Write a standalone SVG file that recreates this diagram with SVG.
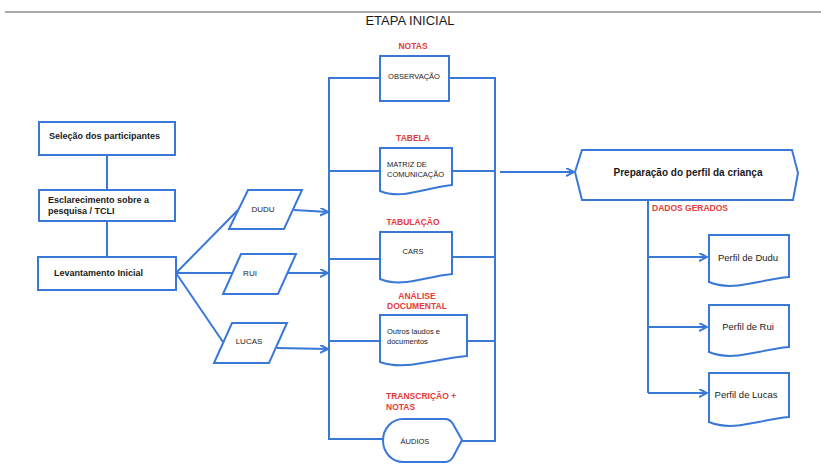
<svg xmlns="http://www.w3.org/2000/svg" width="821" height="468" viewBox="0 0 821 468">
<style>
.s{fill:#fff;stroke:#3a78d8;stroke-width:2}
.c{fill:none;stroke:#3a78d8;stroke-width:2}
.t{font-family:"Liberation Sans",Arial,sans-serif;fill:#1a1a1a}
.b{font-weight:bold}
.r{font-family:"Liberation Sans",Arial,sans-serif;font-weight:bold;fill:#e53b3b;font-size:8.5px}
.m{font-size:7.5px}
</style>
<defs>
<marker id="a" markerWidth="10" markerHeight="10" refX="8" refY="4" orient="auto" markerUnits="userSpaceOnUse">
<path d="M0,0 L8,4 L0,8" fill="none" stroke="#3a78d8" stroke-width="2"/>
</marker>
</defs>
<rect width="821" height="468" fill="#fff"/>
<line x1="5" y1="12" x2="821" y2="12" stroke="#555" stroke-width="1.2"/>
<text class="t" x="410" y="25" font-size="13" text-anchor="middle">ETAPA INICIAL</text>

<g id="connectors">
<line class="c" x1="107" y1="155" x2="107" y2="190"/>
<line class="c" x1="107" y1="221" x2="107" y2="257"/>
<line class="c" x1="176" y1="273" x2="238" y2="210"/>
<line class="c" x1="176" y1="273" x2="232" y2="273"/>
<line class="c" x1="176" y1="273" x2="223" y2="342"/>
<line class="c" x1="294" y1="210" x2="328" y2="212" marker-end="url(#a)"/>
<line class="c" x1="288" y1="273" x2="328" y2="273" marker-end="url(#a)"/>
<line class="c" x1="277" y1="348" x2="328" y2="349" marker-end="url(#a)"/>
<polyline class="c" points="380,78 329,78 329,439 383,439"/>
<line class="c" x1="329" y1="171" x2="380" y2="171"/>
<line class="c" x1="329" y1="259" x2="380" y2="259"/>
<line class="c" x1="329" y1="341" x2="380" y2="341"/>
<polyline class="c" points="449,78 495,78 495,441 462,441"/>
<line class="c" x1="452" y1="171" x2="495" y2="171"/>
<line class="c" x1="452" y1="257" x2="495" y2="257"/>
<line class="c" x1="467" y1="341" x2="495" y2="341"/>
<line class="c" x1="500" y1="172" x2="574" y2="172" marker-end="url(#a)"/>
<line class="c" x1="648" y1="200" x2="648" y2="393"/>
<line class="c" x1="648" y1="257" x2="707" y2="257" marker-end="url(#a)"/>
<line class="c" x1="648" y1="327" x2="707" y2="327" marker-end="url(#a)"/>
<line class="c" x1="648" y1="393" x2="707" y2="393" marker-end="url(#a)"/>
</g>

<g id="selecao">
<rect class="s" x="39" y="122" width="136" height="33"/>
<text class="t b" x="49" y="139" font-size="9">Seleção dos participantes</text>
</g>
<g id="esclarecimento">
<rect class="s" x="39" y="190" width="136" height="31"/>
<text class="t b" x="48" y="203" font-size="9">Esclarecimento sobre a</text>
<text class="t b" x="48" y="214" font-size="9">pesquisa / TCLI</text>
</g>
<g id="levantamento">
<rect class="s" x="38" y="257" width="138" height="33"/>
<text class="t b" x="54" y="276" font-size="9">Levantamento Inicial</text>
</g>

<g id="dudu">
<polygon class="s" points="248,190 302,190 284,229 229,229"/>
<text class="t" x="263" y="212" font-size="8" text-anchor="middle">DUDU</text>
</g>
<g id="rui">
<polygon class="s" points="241,254 296,254 278,294 223,294"/>
<text class="t" x="250" y="276" font-size="8" text-anchor="middle">RUI</text>
</g>
<g id="lucas">
<polygon class="s" points="232,323 287,323 269,363 214,363"/>
<text class="t" x="249" y="344" font-size="8" text-anchor="middle">LUCAS</text>
</g>

<g id="observacao">
<text class="r" x="413" y="49" text-anchor="middle">NOTAS</text>
<rect class="s" x="380" y="56" width="69" height="45"/>
<text class="t m" x="414" y="79" text-anchor="middle">OBSERVAÇÃO</text>
</g>
<g id="matriz">
<text class="r" x="413" y="141" text-anchor="middle">TABELA</text>
<path class="s" d="M380,148 H452 V185 C423,188 402,200 380,191 Z"/>
<text class="t m" x="387" y="167">MATRIZ DE</text>
<text class="t m" x="387" y="177">COMUNICAÇÃO</text>
</g>
<g id="cars">
<text class="r" x="413" y="225" text-anchor="middle">TABULAÇÃO</text>
<path class="s" d="M380,232 H452 V274 C423,277 402,288 380,279 Z"/>
<text class="t m" x="413" y="254" text-anchor="middle">CARS</text>
</g>
<g id="outros">
<text class="r" x="417" y="299" text-anchor="middle">ANÁLISE</text>
<text class="r" x="417" y="309" text-anchor="middle">DOCUMENTAL</text>
<path class="s" d="M380,315 H467 V356 C432,359 406,371 380,362 Z"/>
<text class="t m" x="387" y="334">Outros laudos e</text>
<text class="t m" x="387" y="344">documentos</text>
</g>
<g id="audios">
<text class="r" x="386" y="399">TRANSCRIÇÃO +</text>
<text class="r" x="386" y="410">NOTAS</text>
<path class="s" d="M403,419 H445 Q450,419 453,424 L462,440 L453,457 Q450,462 445,462 H403 A20,21.5 0 0 1 403,419 Z"/>
<text class="t m" x="415" y="444" text-anchor="middle">ÁUDIOS</text>
</g>

<g id="preparacao">
<polygon class="s" points="575,172 582,150 792,150 798,173 793,200 582,200"/>
<text class="t b" x="688" y="176" font-size="10" text-anchor="middle">Preparação do perfil da criança</text>
<text class="r" x="652" y="211" font-size="8">DADOS GERADOS</text>
</g>

<g id="perfil-dudu">
<path class="s" d="M709,235 H789 V277 C757,280 733,292 709,282 Z"/>
<text class="t" x="748" y="261" font-size="9.5" text-anchor="middle">Perfil de Dudu</text>
</g>
<g id="perfil-rui">
<path class="s" d="M709,305 H789 V347 C757,350 733,362 709,352 Z"/>
<text class="t" x="748" y="330" font-size="9.5" text-anchor="middle">Perfil de Rui</text>
</g>
<g id="perfil-lucas">
<path class="s" d="M709,373 H789 V417 C757,420 733,432 709,422 Z"/>
<text class="t" x="746" y="398" font-size="9.5" text-anchor="middle">Perfil de Lucas</text>
</g>
</svg>
